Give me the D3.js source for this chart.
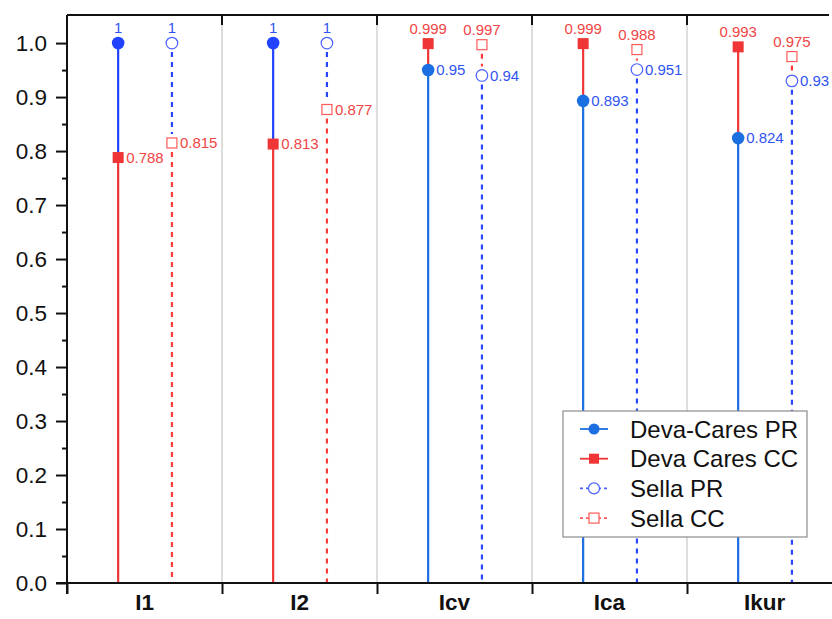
<!DOCTYPE html>
<html>
<head>
<meta charset="utf-8">
<script src="https://cdn.jsdelivr.net/npm/d3@7/dist/d3.min.js"></script>
<style>
  html, body { margin: 0; padding: 0; background: #fff; }
  svg { display: block; font-family: "Liberation Sans", Arial, sans-serif; }
</style>
</head>
<body>
<svg id="chart" width="832" height="619"></svg>
<script>
// Index values per category, two methods (Deva-Cares, Sella), PR and CC each
const categories = ["I1", "I2", "Icv", "Ica", "Ikur"];
const devaPR  = [1, 1, 0.95, 0.893, 0.824];
const devaCC  = [0.788, 0.813, 0.999, 0.999, 0.993];
const sellaPR = [1, 1, 0.94, 0.951, 0.93];
const sellaCC = [0.815, 0.877, 0.997, 0.988, 0.975];
const yTicks  = [0, 0.1, 0.2, 0.3, 0.4, 0.5, 0.6, 0.7, 0.8, 0.9, 1.0];
const legendLabels = ["Deva-Cares PR", "Deva Cares CC", "Sella PR", "Sella CC"];

const svg = d3.select("#chart");
const W = 832, H = 619;
const pLeft = 67, pRight = 842, pTop = 15, pBottom = 583;

const x = d3.scaleBand().domain(categories).range([pLeft, pRight]).paddingInner(0).paddingOuter(0);
const xIdx = d3.scaleLinear().domain([0, categories.length]).range([pLeft, pRight]);
const y = d3.scaleLinear().domain([0, 1.052]).range([pBottom, pTop]);
const bw = x.bandwidth();

const C = {
  devaPRa: "#2142ff",   // when PR sits on top
  devaPRb: "#1b6fe0",
  devaCC: "#ef3535",
  sellaPR: "#2a45ff",
  sellaPRm: "#4a62ff",
  sellaCC: "#ff3a3a",
  sellaCCm: "#ff5a5a",
  labRed: "#f04545",
  labBlue: "#2f55f0"
};

// vertical separators between categories
svg.append("g").selectAll("line")
  .data(d3.range(1, categories.length))
  .join("line")
  .attr("x1", d => xIdx(d)).attr("x2", d => xIdx(d))
  .attr("y1", pTop).attr("y2", pBottom)
  .attr("stroke", "#d2d2d2").attr("stroke-width", 1.5);

// build stem groups: each group has a PR and CC value at one x position
const groups = [];
categories.forEach((c, i) => {
  groups.push({ cat: c, i, pos: x(c) + bw * 0.33, pr: devaPR[i], cc: devaCC[i], kind: "deva" });
  groups.push({ cat: c, i, pos: x(c) + bw * 0.677, pr: sellaPR[i], cc: sellaCC[i], kind: "sella" });
});

function prColor(g) {
  if (g.kind === "sella") return C.sellaPR;
  return g.pr > g.cc ? C.devaPRa : C.devaPRb;
}
function ccColor(g) { return g.kind === "sella" ? C.sellaCC : C.devaCC; }

const stems = svg.append("g");
groups.forEach(g => {
  const prTop = g.pr >= g.cc;
  const hi = prTop ? g.pr : g.cc, lo = prTop ? g.cc : g.pr;
  const hiCol = prTop ? prColor(g) : ccColor(g);
  const loCol = prTop ? ccColor(g) : prColor(g);
  const dash = g.kind === "sella" ? "5,5" : null;
  const gap = g.kind === "sella" ? 9 : 0;
  // upper segment between the two markers
  stems.append("line")
    .attr("x1", g.pos).attr("x2", g.pos)
    .attr("y1", y(hi) + gap).attr("y2", y(lo) - gap)
    .attr("stroke", hiCol).attr("stroke-width", 2.2)
    .attr("stroke-dasharray", dash);
  // lower segment down to zero
  stems.append("line")
    .attr("x1", g.pos).attr("x2", g.pos)
    .attr("y1", y(lo) + gap).attr("y2", y(0))
    .attr("stroke", loCol).attr("stroke-width", 2.2)
    .attr("stroke-dasharray", dash);
});

// markers
const marks = svg.append("g");
groups.forEach(g => {
  if (g.kind === "deva") {
    marks.append("rect")
      .attr("x", g.pos - 5.5).attr("y", y(g.cc) - 5.5)
      .attr("width", 11).attr("height", 11)
      .attr("fill", C.devaCC);
    marks.append("circle")
      .attr("cx", g.pos).attr("cy", y(g.pr)).attr("r", 6.3)
      .attr("fill", prColor(g));
  } else {
    marks.append("rect")
      .attr("x", g.pos - 5).attr("y", y(g.cc) - 5)
      .attr("width", 10).attr("height", 10)
      .attr("fill", "#fff").attr("stroke", C.sellaCCm).attr("stroke-width", 1.2);
    marks.append("circle")
      .attr("cx", g.pos).attr("cy", y(g.pr)).attr("r", 5.8)
      .attr("fill", "#fff").attr("stroke", C.sellaPRm).attr("stroke-width", 1.2);
  }
});

// value labels: upper value above its marker, lower value to the right
const labels = svg.append("g").attr("font-size", 15);
groups.forEach(g => {
  const items = [
    { v: g.pr, col: C.labBlue },
    { v: g.cc, col: C.labRed }
  ].sort((a, b) => b.v - a.v);
  labels.append("text")
    .attr("x", g.pos).attr("y", y(items[0].v) - 10)
    .attr("text-anchor", "middle")
    .attr("fill", items[0].col)
    .text(String(items[0].v));
  labels.append("text")
    .attr("x", g.pos + 8).attr("y", y(items[1].v))
    .attr("dy", "0.35em")
    .attr("fill", items[1].col)
    .text(String(items[1].v));
});

// top frame with inward ticks
svg.append("line")
  .attr("x1", pLeft).attr("x2", 829).attr("y1", pTop).attr("y2", pTop)
  .attr("stroke", "#111").attr("stroke-width", 2);
svg.append("g").selectAll("line")
  .data(d3.range(1, categories.length))
  .join("line")
  .attr("x1", d => xIdx(d)).attr("x2", d => xIdx(d))
  .attr("y1", pTop).attr("y2", pTop + 10)
  .attr("stroke", "#111").attr("stroke-width", 2);

// y axis
const yAxis = svg.append("g")
  .attr("transform", `translate(${pLeft},0)`)
  .call(d3.axisLeft(y).tickValues(yTicks).tickFormat(d3.format(".1f")).tickSize(11).tickPadding(9));
yAxis.select(".domain").attr("stroke", "#111").attr("stroke-width", 2).attr("d", `M0,${pBottom + 11}V${pTop}`);
yAxis.selectAll(".tick line").attr("stroke", "#111").attr("stroke-width", 2);
yAxis.selectAll(".tick text").attr("font-size", 22.5).attr("fill", "#111")
  .attr("font-family", "Liberation Sans, Arial, sans-serif");

const yMinor = svg.append("g")
  .attr("transform", `translate(${pLeft},0)`)
  .call(d3.axisLeft(y).tickValues(yTicks.slice(0, -1).map(v => v + 0.05)).tickFormat("").tickSize(5));
yMinor.select(".domain").remove();
yMinor.selectAll(".tick line").attr("stroke", "#111").attr("stroke-width", 2);

// x axis: boundary ticks and category labels
const xAxis = svg.append("g")
  .attr("transform", `translate(0,${pBottom})`)
  .call(d3.axisBottom(xIdx).tickValues(d3.range(0, categories.length)).tickFormat("").tickSize(11));
xAxis.select(".domain").attr("stroke", "#111").attr("stroke-width", 2).attr("d", `M${pLeft - 11},0H${W}`);
xAxis.selectAll(".tick line").attr("stroke", "#111").attr("stroke-width", 2);

const xLab = svg.append("g")
  .attr("transform", `translate(0,${pBottom})`)
  .call(d3.axisBottom(x).tickSize(0).tickPadding(11));
xLab.select(".domain").remove();
xLab.selectAll(".tick text").attr("font-size", 22.5).attr("font-weight", "bold").attr("fill", "#111")
  .attr("font-family", "Liberation Sans, Arial, sans-serif");

// legend
const lg = svg.append("g").attr("transform", "translate(563,411)");
lg.append("rect").attr("width", 244).attr("height", 126)
  .attr("fill", "#fff").attr("stroke", "#8c8c8c").attr("stroke-width", 1.2);
const legendStyles = [
  { line: C.devaPRb, dash: null, shape: "circle", fill: C.devaPRb, stroke: "none" },
  { line: C.devaCC, dash: null, shape: "square", fill: C.devaCC, stroke: "none" },
  { line: C.sellaPRm, dash: "3,3", shape: "circle", fill: "#fff", stroke: C.sellaPRm },
  { line: C.sellaCCm, dash: "3,3", shape: "square", fill: "#fff", stroke: C.sellaCCm }
];
legendLabels.forEach((name, i) => {
  const s = legendStyles[i];
  const row = lg.append("g").attr("transform", `translate(0,${18 + i * 29.7})`);
  row.append("line").attr("x1", 17).attr("x2", 45).attr("y1", 0).attr("y2", 0)
    .attr("stroke", s.line).attr("stroke-width", 1.8).attr("stroke-dasharray", s.dash);
  if (s.shape === "circle") {
    row.append("circle").attr("cx", 31).attr("cy", 0).attr("r", 5.5)
      .attr("fill", s.fill).attr("stroke", s.stroke).attr("stroke-width", 1.2);
  } else {
    row.append("rect").attr("x", 26).attr("y", -5).attr("width", 10).attr("height", 10)
      .attr("fill", s.fill).attr("stroke", s.stroke).attr("stroke-width", 1.2);
  }
  row.append("text").attr("x", 67).attr("y", 0).attr("dy", "0.36em")
    .attr("font-size", 24).attr("fill", "#111").text(name);
});
</script>
</body>
</html>
